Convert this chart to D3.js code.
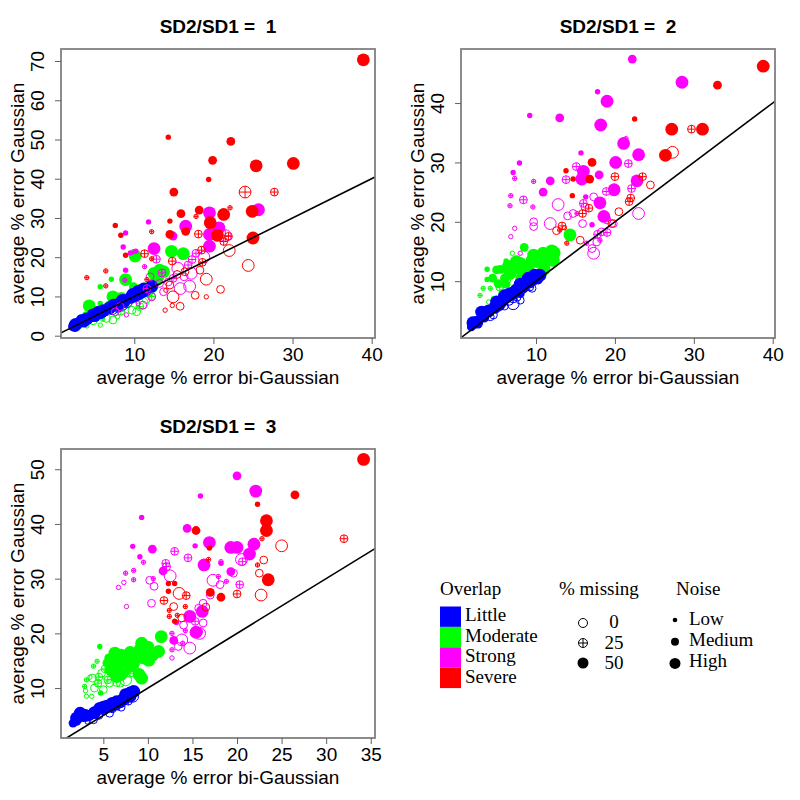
<!DOCTYPE html>
<html><head><meta charset="utf-8">
<script src="https://cdnjs.cloudflare.com/ajax/libs/d3/7.8.5/d3.min.js"></script>
<style>body{margin:0;background:#fff}</style>
</head><body>
<script>
// Each point: [avg % error bi-Gaussian, avg % error Gaussian, % missing, noise level (1 Low, 2 Medium, 3 High)]
const p1Little = [[2.2,2.3,50,2],[2.5,2.6,50,3],[2.9,2.8,0,2],[3.2,3.4,50,2],[3.6,3.7,50,3],[4.0,4.3,50,3],[4.3,4.2,25,2],[4.6,4.7,50,2],[5.0,5.1,50,3],[5.4,5.3,0,2],[5.8,5.9,50,3],[6.1,6.4,50,3],[6.5,6.6,25,2],[6.9,7.1,50,3],[7.2,6.9,0,3],[7.6,7.6,50,2],[8.0,8.0,50,3],[8.4,8.3,0,2],[8.8,8.9,50,3],[9.2,9.3,50,2],[9.6,9.8,50,3],[10.0,10.1,50,3],[10.3,10.6,50,3],[10.7,10.8,25,3],[11.0,11.2,50,3],[11.4,11.6,50,3],[11.8,12.0,50,2],[12.2,12.6,50,3],[9.0,8.6,0,3],[7.9,7.5,0,3],[6.3,6.0,0,2],[3.8,3.6,0,1],[10.5,10.0,25,2],[8.5,8.0,25,3],
 [2.6,2.9,50,3],[3.4,3.9,50,3],[4.8,5.3,50,3],[5.5,6.0,50,3],[7.4,7.8,50,3],[8.5,9.0,50,3],[9.8,10.5,50,3],[10.5,11.3,50,3],[11.2,11.9,50,3]];
const p1Moderate = [[10.1,20.3,50,3],[14.7,21.5,50,3],[16.2,20.9,50,3],[8.9,14.3,50,3],[12.5,15.9,50,3],[13.2,16.7,50,3],[13.7,16.3,50,3],[12.2,12.5,50,3],[12.8,14.2,50,3],[13.0,15.0,50,3],[8.4,9.5,50,3],[7.3,9.9,50,3],[4.3,7.6,50,3],[5.7,12.5,50,1],[7.1,14.4,50,1],[5.7,8.2,50,1],[9.9,12.5,50,2],[11.8,10.8,50,2],[6.1,6.1,50,2],[10.6,11.5,50,3],[11.5,12.0,50,3],[9.5,10.2,50,2],[8.0,8.5,50,2],[6.8,7.8,50,2],[5.0,6.3,50,2],[3.8,5.5,50,1],
 [9.0,7.8,25,1],[7.9,4.8,0,1],[5.7,2.7,0,1],[4.0,2.5,0,1],[6.5,4.4,0,2],[7.3,4.0,0,2],[9.7,6.5,0,2],[10.3,6.1,0,2],[10.7,7.4,25,2],[8.3,6.2,25,2],[6.0,4.2,25,1],[4.8,3.8,0,2],[11.5,9.2,0,2],[12.2,10.0,25,2],[11.0,8.3,0,3],[3.0,2.2,0,1]];
const p1Strong = [[25.7,32.1,50,3],[19.5,31.3,50,3],[20.7,27.5,50,3],[19.5,25.8,50,3],[19.5,22.8,50,3],[12.5,22.2,50,3],[16.5,27.9,50,3],[14.9,25.4,50,2],[11.8,29.0,50,1],[8.9,26.2,50,1],[8.6,22.6,50,1],[8.9,16.7,50,1],[9.5,21.1,50,1],[10.2,21.5,50,1],
 [17.3,19.4,25,2],[12.8,19.5,25,2],[11.3,17.6,25,1],[16.8,18.0,25,2],[9.9,21.4,25,1],[14.9,14.6,25,2],[8.8,14.2,25,1],[11.6,12.0,25,2],[13.5,16.0,25,2],[17.8,21.0,25,2],[21.5,25.5,25,3],
 [17.0,12.6,0,3],[15.8,12.0,0,3],[17.2,15.9,0,3],[12.2,9.9,0,2],[11.1,7.8,0,2],[13.2,13.3,0,2],[14.3,13.7,0,2],[9.0,5.3,0,1],[8.2,7.4,0,2],[7.6,6.1,0,2],[10.5,8.2,0,1],[13.7,11.2,0,2],[15.5,17.2,0,3],[16.3,15.0,0,2],[18.8,20.0,0,3],[12.0,15.0,0,2]];
const p1Severe = [[38.95,70.3,50,3],[14.3,50.6,50,1],[22.2,49.5,50,2],[19.9,44.7,50,2],[25.4,43.3,50,3],[30.1,43.9,50,3],[19.4,39.8,50,1],[15.0,36.6,50,2],[15.9,31.1,50,2],[18.2,32.0,50,2],[21.3,30.9,50,3],[19.6,28.8,50,3],[24.9,31.7,50,3],[20.5,25.6,50,3],[25.0,24.9,50,3],[14.5,25.8,50,2],[16.5,26.6,50,2],[7.6,28.1,50,1],[8.3,25.6,50,1],[8.9,20.5,50,1],[14.5,29.2,50,1],
 [24.0,36.6,25,3],[27.7,36.6,25,2],[22.1,32.6,25,1],[17.8,30.4,25,1],[18.1,25.9,25,2],[21.9,25.3,25,2],[21.3,24.0,25,2],[18.5,21.8,25,2],[11.3,20.9,25,2],[12.2,19.6,25,1],[14.8,19.0,25,2],[12.2,26.5,25,1],[6.4,16.5,25,1],[4.0,14.8,25,1],[6.4,12.7,25,1],[18.6,18.7,25,2],[11.6,14.3,25,1],
 [22.0,21.7,0,3],[24.4,17.9,0,3],[20.9,11.8,0,2],[19.1,14.4,0,3],[17.7,10.3,0,2],[19.1,9.9,0,1],[14.9,9.9,0,3],[15.8,7.5,0,2],[14.8,7.7,0,1],[13.9,6.5,0,1],[14.0,11.6,0,1],[15.4,15.6,0,2],[16.4,16.3,0,2],[14.5,12.9,0,2],[18.3,16.7,0,2]];

const p2Little = [[1.8,2.3,50,2],[2.2,2.8,50,2],[2.5,3.1,50,3],[3.1,4.8,50,3],[3.5,3.8,50,2],[4.2,4.0,0,2],[4.6,4.3,0,2],[4.8,5.6,50,3],[5.4,6.2,50,3],[5.8,6.8,50,3],[6.3,7.4,50,3],[6.6,6.6,0,2],[7.1,6.2,0,3],[7.1,7.0,25,2],[7.5,8.5,50,3],[8.0,7.9,50,2],[8.0,6.8,0,2],[8.3,9.0,50,3],[8.6,9.6,50,3],[9.2,9.0,25,2],[9.2,9.9,50,3],[9.6,10.3,50,3],[10.1,10.7,50,3],[10.5,11.0,50,3],[5.4,5.7,0,2],[3.0,3.2,0,1],[6.0,5.8,0,2],[9.5,8.8,0,2],[2.8,2.5,0,1],[7.6,7.3,0,2],
 [2.0,3.0,50,3],[4.0,5.0,50,3],[5.0,6.5,50,3],[6.0,7.5,50,3],[7.0,8.0,50,3],[8.0,9.5,50,3],[9.0,10.5,50,3],[9.8,11.0,50,3],[10.3,10.2,50,2],[6.6,7.8,50,3]];
const p2Moderate = [[14.3,17.8,50,3],[8.5,15.7,50,2],[12.0,15.1,50,3],[10.9,14.7,50,3],[9.7,14.4,50,3],[11.5,14.5,50,3],[7.5,13.3,50,3],[6.2,13.4,50,1],[3.8,12.0,50,1],[3.8,10.3,50,1],[5.0,11.9,50,2],[6.7,11.3,50,3],[8.6,11.9,50,3],[10.1,13.3,50,3],[12.2,13.5,50,3],[5.2,9.6,50,2],[7.5,11.9,50,2],[9.0,12.5,50,3],[11.0,12.0,50,3],[6.0,10.5,50,2],
 [4.5,10.5,50,2],[5.5,12.0,50,2],[6.5,12.5,50,3],[7.0,12.0,50,3],[8.0,13.0,50,3],[9.5,13.5,50,3],[10.5,14.0,50,3],[11.0,13.0,50,3],[9.0,11.5,50,3],[8.2,10.5,50,3],[6.2,9.5,50,2],[12.3,14.8,50,3],
 [3.3,8.8,25,1],[2.9,7.6,25,1],[4.2,8.8,25,1],[4.6,7.1,0,1],[8.8,12.4,25,2],[6.3,10.2,25,2],[5.4,9.0,25,2],[7.5,9.0,0,2],[7.0,14.7,0,1],[9.0,10.5,0,2],[8.0,10.2,25,2],[5.8,8.0,0,2],[10.5,11.5,25,2],[11.8,12.5,0,2],[4.0,6.5,0,1]];
const p2Strong = [[22.2,47.4,50,2],[28.5,43.5,50,3],[19.0,40.3,50,3],[17.8,41.9,50,1],[9.2,37.9,50,1],[13.0,37.5,50,2],[18.2,36.3,50,3],[21.1,33.2,50,3],[23.0,31.3,50,3],[20.1,30.0,50,3],[16.0,28.5,50,3],[18.0,27.9,50,2],[11.8,26.9,50,2],[22.8,26.9,50,3],[19.9,25.4,50,3],[10.9,25.0,50,2],[18.1,23.2,50,3],[18.6,20.9,50,3],[7.1,28.3,50,1],[7.9,29.9,50,1],[15.7,31.6,50,1],[16.3,24.2,50,1],[17.1,19.5,50,1],[15.8,27.2,50,3],
 [21.4,34.0,25,1],[15.1,29.3,25,2],[9.7,26.8,25,1],[13.8,27.1,25,2],[21.7,29.8,25,2],[22.1,25.6,25,2],[18.9,25.1,25,2],[16.0,23.1,25,2],[8.4,23.7,25,2],[9.6,22.5,25,1],[6.8,24.4,25,1],[6.7,22.7,25,1],[7.3,27.3,25,1],[19.0,18.2,25,2],[17.8,17.9,25,2],[16.4,16.4,25,1],[18.1,16.9,25,1],[15.2,21.4,25,1],
 [12.8,22.9,0,3],[11.8,19.7,0,3],[9.7,20.0,0,2],[9.7,19.2,0,2],[7.3,18.9,0,1],[6.8,17.5,0,1],[8.0,14.7,0,1],[15.9,19.7,0,2],[14.7,21.4,0,2],[17.3,24.2,0,2],[23.0,21.4,0,3],[17.3,14.7,0,3],[17.7,16.6,0,2],[16.2,22.5,0,2],[19.8,19.7,0,2],[18.3,18.3,0,2],[19.0,20.3,0,2],[17.1,15.5,0,2],[14.0,21.0,0,2]];
const p2Severe = [[38.8,46.2,50,3],[33.0,43.0,50,2],[22.5,37.3,50,1],[27.2,35.6,50,3],[31.1,35.6,50,3],[26.4,31.2,50,3],[17.1,30.0,50,2],[13.8,28.6,50,1],[16.8,27.2,50,2],[14.7,27.2,50,1],[14.6,24.4,50,1],
 [29.7,35.6,25,2],[20.0,27.6,25,2],[23.5,27.6,25,2],[21.8,23.4,25,2],[16.7,22.3,25,2],[15.9,21.4,25,2],[13.3,19.3,25,2],[13.0,18.6,25,1],[13.9,16.4,25,1],[22.0,24.0,25,2],
 [27.3,31.7,0,3],[24.5,26.2,0,2],[20.5,21.7,0,2],[19.6,19.7,0,2],[15.6,16.9,0,2],[12.6,18.5,0,2],[13.6,19.0,0,1]];

const p3Little = [[1.6,3.6,50,2],[2.0,3.9,50,2],[2.4,5.4,50,3],[2.8,4.6,50,2],[3.5,4.8,50,2],[3.9,4.2,0,2],[4.2,5.5,50,2],[4.6,6.3,50,3],[5.0,5.9,25,2],[5.4,6.7,50,3],[5.7,5.4,0,2],[6.0,6.8,50,3],[6.5,6.7,50,2],[6.9,7.5,50,3],[7.2,7.9,50,3],[7.5,8.4,50,3],[7.8,8.6,50,3],[8.0,9.1,50,3],[8.4,9.4,50,3],[8.6,9.2,50,2],[7.0,6.5,0,2],[6.0,6.2,25,2],[4.5,5.0,0,2],[3.2,3.8,0,1],[7.8,7.6,25,2],[8.3,8.5,0,3],
 [3.0,5.0,50,3],[4.0,5.5,50,3],[5.0,6.5,50,3],[6.0,7.2,50,3],[6.5,7.5,50,3],[7.5,8.8,50,3],[8.0,8.5,50,3],[2.0,4.5,50,3]];
const p3Moderate = [[11.5,19.4,50,3],[9.3,18.2,50,3],[9.1,17.0,50,3],[11.2,16.7,50,3],[10.1,15.1,50,3],[9.3,11.8,50,3],[8.4,14.6,50,3],[6.3,16.4,50,3],[7.2,15.2,50,3],[5.9,13.3,50,3],[4.6,17.6,50,1],[4.7,9.1,50,1],[5.4,14.6,50,2],[6.5,12.1,50,3],[7.8,16.0,50,3],[8.8,15.8,50,3],[7.5,13.0,50,2],[10.5,16.0,50,3],[6.8,14.0,50,2],[5.6,15.5,50,2],
 [6.0,15.0,50,3],[7.0,16.0,50,3],[8.0,16.5,50,3],[9.5,15.5,50,3],[10.0,17.5,50,3],[7.0,12.5,50,3],[8.0,14.0,50,3],[9.0,12.5,50,3],
 [2.9,10.3,25,1],[3.1,11.5,25,1],[4.4,10.9,25,2],[5.7,10.9,0,2],[5.0,9.7,0,2],[3.7,8.5,0,1],[3.1,8.5,0,1],[3.9,14.0,25,1],[4.3,14.9,25,1],[8.0,12.7,25,2],[6.9,10.9,0,2],[7.2,14.6,0,2],[4.8,12.7,0,2],[3.5,12.0,0,1],[6.0,12.8,25,2],[7.5,11.5,0,3],[5.2,13.5,25,2],[8.5,13.8,0,2],[3.8,11.8,0,2],
 [4.5,12.0,25,2],[5.5,11.5,25,2],[6.5,11.0,0,2],[3.0,9.5,0,1],[4.0,10.0,0,2]];
const p3Strong = [[20.0,48.8,50,2],[22.1,46.0,50,3],[15.9,45.1,50,1],[9.3,41.2,50,1],[14.4,39.2,50,2],[16.9,36.6,50,3],[10.5,35.4,50,2],[8.3,35.9,50,1],[19.3,35.7,50,3],[20.0,35.7,50,3],[21.9,36.3,50,3],[21.4,34.5,50,3],[16.3,32.5,50,3],[19.3,31.3,50,2],[11.7,31.4,50,2],[14.7,23.1,50,3],[16.1,24.0,50,3],[15.4,20.2,50,3],[12.9,18.7,50,2],[9.1,34.0,50,1],[15.3,36.0,50,1],[13.2,22.0,50,1],[18.2,32.8,50,1],
 [13.0,35.0,25,2],[14.5,33.8,25,2],[9.5,33.0,25,1],[12.1,32.2,25,2],[10.6,30.0,25,1],[7.5,31.0,25,1],[8.4,31.5,25,1],[8.4,29.8,25,1],[20.3,28.9,25,2],[20.6,33.1,25,2],[17.9,30.4,25,1],[15.7,20.3,25,2],[14.2,20.5,25,1],[12.7,20.0,25,1],[12.7,17.0,25,1],[13.9,18.2,25,1],[15.3,22.2,25,2],[18.2,33.1,25,1],[18.8,29.5,25,1],[12.0,32.8,25,2],
 [10.2,29.7,0,2],[10.7,28.6,0,2],[10.4,25.5,0,2],[6.7,28.4,0,1],[7.3,29.3,0,1],[7.6,24.9,0,1],[17.3,29.7,0,3],[18.1,28.9,0,2],[16.2,25.5,0,2],[16.2,21.9,0,2],[14.7,17.3,0,3],[13.8,18.8,0,3],[12.7,15.5,0,1],[13.4,17.6,0,2],[15.8,20.0,0,3],[19.6,31.0,0,2],[15.7,24.6,0,2],[20.5,33.5,0,3],[12.5,30.5,0,3],[14.0,21.5,0,2],[17.0,27.0,0,2]];
const p3Severe = [[34.2,51.8,50,3],[26.5,45.3,50,2],[22.3,43.6,50,1],[23.3,40.6,50,3],[23.3,38.8,50,3],[15.4,38.8,50,2],[23.5,29.8,50,3],[17.0,27.5,50,2],[18.2,26.6,50,2],[12.3,29.1,50,1],[12.3,27.7,50,1],[13.0,29.1,50,1],[16.9,35.6,50,1],[13.0,22.2,50,1],
 [32.0,37.3,25,2],[22.8,37.3,25,1],[14.3,26.9,25,2],[11.8,26.0,25,2],[20.0,27.2,25,2],[22.3,32.5,25,1],[14.2,24.9,25,1],[12.4,24.2,25,1],[12.4,23.1,25,1],[13.3,23.3,25,1],[16.8,33.5,25,1],
 [25.0,36.0,0,3],[22.7,27.0,0,3],[23.0,33.4,0,2],[13.5,27.3,0,3],[12.9,24.9,0,2],[13.8,22.8,0,2],[16.5,24.8,0,2],[22.5,31.0,0,2]];

const overlapNames = ["Little","Moderate","Strong","Severe"];
const overlapColors = ["#0000ff","#00ff00","#ff00ff","#ff0000"];
const missingLevels = [0,25,50];
const noiseNames = ["Low","Medium","High"];
const panelTitles = ["SD2/SD1 =  1","SD2/SD1 =  2","SD2/SD1 =  3"];
const p1XTicks = [10,20,30,40], p1YTicks = [0,10,20,30,40,50,60,70];
const p2XTicks = [10,20,30,40], p2YTicks = [10,20,30,40];
const p3XTicks = [5,10,15,20,25,30,35], p3YTicks = [10,20,30,40,50];
const xLabel = "average % error bi-Gaussian", yLabel = "average % error Gaussian";

const svg = d3.select("body").append("svg").attr("width",800).attr("height",800)
  .style("font-family","'Liberation Sans', Arial, sans-serif");

const W = 314, H = 289;
const radius = d3.scaleOrdinal().domain([1,2,3]).range([2.7,4.4,6.4]);

const panels = [
  {title:panelTitles[0], groups:[p1Little,p1Moderate,p1Strong,p1Severe], xd:[0.74,40.42], yd:[-0.59,73.06], xt:p1XTicks, yt:p1YTicks, left:61, top:49},
  {title:panelTitles[1], groups:[p2Little,p2Moderate,p2Strong,p2Severe], xd:[0.49,40.29], yd:[0.43,49.1], xt:p2XTicks, yt:p2YTicks, left:461, top:49},
  {title:panelTitles[2], groups:[p3Little,p3Moderate,p3Strong,p3Severe], xd:[0.25,35.48], yd:[0.87,53.7], xt:p3XTicks, yt:p3YTicks, left:61, top:449}
];

function drawSymbol(g, cx, cy, r, color, miss) {
  if (miss === 50) {
    g.append("circle").attr("cx",cx).attr("cy",cy).attr("r",r).attr("fill",color);
  } else {
    g.append("circle").attr("cx",cx).attr("cy",cy).attr("r",r-0.5).attr("fill","none").attr("stroke",color).attr("stroke-width",1);
    if (miss === 25) {
      g.append("line").attr("x1",cx-r+0.5).attr("x2",cx+r-0.5).attr("y1",cy).attr("y2",cy).attr("stroke",color).attr("stroke-width",1);
      g.append("line").attr("x1",cx).attr("x2",cx).attr("y1",cy-r+0.5).attr("y2",cy+r-0.5).attr("stroke",color).attr("stroke-width",1);
    }
  }
}

panels.forEach((p, pi) => {
  const x = d3.scaleLinear().domain(p.xd).range([p.left, p.left+W]);
  const y = d3.scaleLinear().domain(p.yd).range([p.top+H, p.top]);
  const g = svg.append("g");
  const clipId = "clip"+pi;
  svg.append("clipPath").attr("id",clipId).append("rect").attr("x",p.left).attr("y",p.top).attr("width",W).attr("height",H);
  const pts = g.append("g").attr("clip-path",`url(#${clipId})`);
  [1,0,2,3].forEach(gi => {
    p.groups[gi].forEach(d => drawSymbol(pts, x(d[0]), y(d[1]), radius(d[3]), overlapColors[gi], d[2]));
  });
  // y = x reference line
  pts.append("line").attr("x1",x(p.xd[0])).attr("y1",y(p.xd[0])).attr("x2",x(p.xd[1])).attr("y2",y(p.xd[1]))
    .attr("stroke","#000").attr("stroke-width",1.6);
  // box
  g.append("rect").attr("x",p.left).attr("y",p.top).attr("width",W).attr("height",H)
    .attr("fill","none").attr("stroke","#808080").attr("stroke-width",1.8);
  // axes
  const xa = g.append("g").attr("transform",`translate(0,${p.top+H})`)
    .call(d3.axisBottom(x).tickValues(p.xt).tickSize(6).tickPadding(4).tickFormat(d3.format("d")));
  xa.select(".domain").remove();
  xa.selectAll("line").attr("stroke","#606060");
  xa.selectAll("text").attr("font-size",19).attr("fill","#000").attr("font-family","'Liberation Sans', Arial, sans-serif");
  const ya = g.append("g").attr("transform",`translate(${p.left},0)`)
    .call(d3.axisLeft(y).tickValues(p.yt).tickSize(6).tickFormat(d3.format("d")));
  ya.select(".domain").remove();
  ya.selectAll("line").attr("stroke","#606060");
  ya.selectAll("text").attr("font-size",19).attr("fill","#000").attr("font-family","'Liberation Sans', Arial, sans-serif")
    .attr("x",0).attr("dy",0).attr("text-anchor","middle")
    .attr("transform","translate(-17,0) rotate(-90)");
  // labels
  const cx = p.left + W/2, cy = p.top + H/2;
  g.append("text").attr("x",cx).attr("y",p.top+H+46).attr("text-anchor","middle").attr("font-size",19).text(xLabel);
  g.append("text").attr("transform",`translate(${p.left-37},${cy}) rotate(-90)`).attr("text-anchor","middle").attr("font-size",19).text(yLabel);
  g.append("text").attr("x",cx).attr("y",p.top-16).attr("text-anchor","middle").attr("font-size",19).attr("font-weight","bold")
    .style("white-space","pre").text(p.title);
});

// Legend
const lg = svg.append("g").style("font-family","'Liberation Serif','Times New Roman',serif").attr("font-size",19);
lg.append("text").attr("x",440).attr("y",595).text("Overlap");
overlapNames.forEach((n,i) => {
  lg.append("rect").attr("x",440).attr("y",606.5+i*20.4).attr("width",21).attr("height",20.4).attr("fill",overlapColors[i]);
  lg.append("text").attr("x",465).attr("y",621+i*20.6).text(n);
});
lg.append("text").attr("x",559).attr("y",595).text("% missing");
missingLevels.forEach((m,i) => {
  drawSymbol(lg, 583, 623+i*20, m===50?5.5:5, "#000", m);
  lg.append("text").attr("x",614).attr("y",628+i*20.5).attr("text-anchor","middle").text(m);
});
lg.append("text").attr("x",676).attr("y",595).text("Noise");
noiseNames.forEach((n,i) => {
  lg.append("circle").attr("cx",675).attr("cy",620+i*21.7).attr("r",[2.3,4,5.5][i]).attr("fill","#000");
  lg.append("text").attr("x",689).attr("y",625+i*21.2).text(n);
});
</script>
</body></html>
